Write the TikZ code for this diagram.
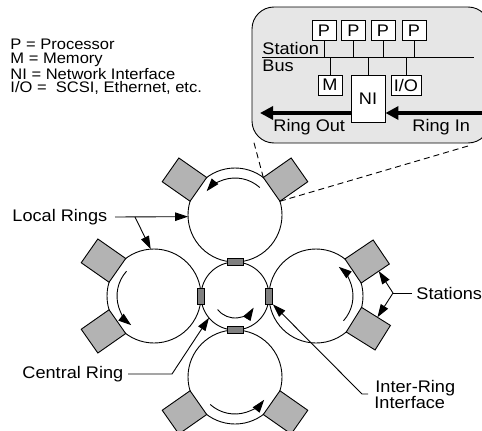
\documentclass[tikz,border=0pt]{standalone}
\usepackage{fontspec}
\setmainfont{Liberation Sans}[FakeStretch=1.08]
\usetikzlibrary{arrows.meta,calc}
\definecolor{stgray}{RGB}{179,179,179}
\definecolor{ifgray}{RGB}{128,128,128}
\definecolor{boxgray}{RGB}{230,230,230}
\newcommand{\legfont}{\fontsize{15.3}{13.8}\selectfont}
\newcommand{\calfont}{\fontsize{16.8}{16.8}\selectfont}
\newcommand{\labfont}{\fontsize{16.8}{16.8}\selectfont}
\begin{document}
\begin{tikzpicture}[x=1pt,y=1pt,line width=0.9pt,
  ring/.style={circle,draw,line width=0.9pt,inner sep=0pt,outer sep=0pt},
  station/.style={draw,fill=stgray,line width=0.9pt,minimum width=34pt,minimum height=29pt,inner sep=0pt,outer sep=0pt,anchor=west},
  ifh/.style={draw,fill=ifgray,line width=0.9pt,inner sep=0pt,minimum width=16pt,minimum height=7pt},
  ifv/.style={draw,fill=ifgray,line width=0.9pt,inner sep=0pt,minimum width=7pt,minimum height=16pt},
  cbox/.style={draw,fill=white,line width=0.9pt,inner sep=0pt,font=\calfont},
  txt/.style={anchor=base west,inner sep=0pt},
  arr/.style={-{Triangle[length=13pt,width=8.5pt]},line width=0.9pt},
  bigarr/.style={-{Triangle[length=13pt,width=13pt]},line width=4pt}
]
\useasboundingbox (0,0) rectangle (482,-431);

% ---------- callout ----------
\coordinate (dashA) at (253,-139);
\coordinate (dashB) at (468,-146);
\draw[fill=boxgray,rounded corners=22pt] (252,-7) rectangle (490,-143);

\coordinate (busL) at (262,-57);
\coordinate (busR) at (474,-57);
\draw (busL) -- (busR);
\node[cbox,minimum width=24pt,minimum height=20pt] (P1) at (324,-30.7) {P};
\node[cbox,minimum width=24pt,minimum height=20pt] (P2) at (353.5,-30.7) {P};
\node[cbox,minimum width=24pt,minimum height=20pt] (P3) at (383,-30.7) {P};
\node[cbox,minimum width=24pt,minimum height=20pt] (P4) at (414,-30.7) {P};
\foreach \p in {P1,P2,P3,P4} \draw (\p.south) -- (\p.south |- busL);
\node[cbox,minimum width=24pt,minimum height=20pt] (M) at (330,-85) {M};
\node[cbox,minimum width=34pt,minimum height=47pt] (NI) at (368,-98.5) {NI};
\node[cbox,minimum width=30pt,minimum height=20pt] (IO) at (406,-85) {I/O};
\foreach \p in {M,NI,IO} \draw (\p.north) -- (\p.north |- busL);
\node[txt,font=\calfont] (stn) at (262,-54) {Station};
\node[txt,font=\calfont] (bus) at (262,-71.5) {Bus};
\coordinate (rout) at (260,-113);
\coordinate (rin) at (486,-113);
\draw[bigarr] (rout -| NI.west) -- (rout);
\draw[bigarr] (rin) -- (rin -| NI.east);
\node[txt,font=\calfont] (ro) at (273,-131.5) {Ring Out};
\node[txt,font=\calfont] (ri) at (412,-131.5) {Ring In};

% ---------- legend ----------
\node[anchor=north west,inner sep=0pt,align=left,font=\legfont] (leg) at (10,-39)
  {P = Processor\\M = Memory\\NI = Network Interface\\I/O = \ SCSI, Ethernet, etc.};

% ---------- rings ----------
\node[ring,minimum size=68pt] (CR) at (235,-296) {};
\node[ring,minimum size=94pt] (TR) at (235,-215) {};
\node[ring,minimum size=94pt] (BR) at (235,-377) {};
\node[ring,minimum size=94pt] (LR) at (154,-296) {};
\node[ring,minimum size=94pt] (RR) at (316,-296) {};

% inner arrows
\draw[arr] ($(TR)+(48:37)$) arc[start angle=48,end angle=140,radius=37];
\draw[arr] ($(LR)+(138:37)$) arc[start angle=138,end angle=232,radius=37];
\draw[arr] ($(BR)+(228:37)$) arc[start angle=228,end angle=322,radius=37];
\draw[arr] ($(RR)+(-42:37)$) arc[start angle=-42,end angle=52,radius=37];
\draw[arr] ($(CR)+(218:22)$) arc[start angle=218,end angle=328,radius=22];

% stations
\node[station,rotate=145] (TS1) at ($(TR)+(145:44.7)$) {};
\node[station,rotate=35]  (TS2) at ($(TR)+(35:44.7)$) {};
\node[station,rotate=145] (LS1) at ($(LR)+(145:44.7)$) {};
\node[station,rotate=215] (LS2) at ($(LR)+(215:44.7)$) {};
\node[station,rotate=34]  (RS1) at ($(RR)+(34:44.7)$) {};
\node[station,rotate=-32] (RS2) at ($(RR)+(-32:44.7)$) {};
\node[station,rotate=215] (BS1) at ($(BR)+(215:44.7)$) {};
\node[station,rotate=-35] (BS2) at ($(BR)+(-35:44.7)$) {};

% inter-ring interfaces
\node[ifh] (IFt) at (CR.north) {};
\node[ifh] (IFb) at (CR.south) {};
\node[ifv] (IFl) at (CR.west) {};
\node[ifv] (IFr) at (CR.east) {};

% dashed zoom lines
\draw[dash pattern=on 6pt off 4pt] (TS2.north west) -- (dashA);
\draw[dash pattern=on 6pt off 4pt] (TS2.south west) -- (dashB);

% ---------- labels ----------
\node[txt,font=\labfont] (lr) at (12,-221) {Local Rings};
\coordinate (lrA) at (115,-217);
\coordinate (lrB) at (135,-217);
\draw[arr] (lrA) -- (TR.182);
\draw[arr] (lrB) -- (LR.94);

\node[txt,font=\labfont] (stl) at (416,-299) {Stations};
\coordinate (sbR) at (412,-293);
\coordinate (sb) at (393,-293);
\draw (sbR) -- (sb);
\draw[arr] (sb) -- ($(RS1.south)!0.25!(RS1.south east)$);
\draw[arr] (sb) -- ($(RS2.north)!0.1!(RS2.north east)$);

\node[txt,font=\labfont] (crl) at (22,-378) {Central Ring};
\coordinate (c1) at (128,-374);
\coordinate (c2) at (172,-374);
\draw[arr] (c1) -- (c2) -- (CR.220);

\node[txt,font=\labfont] (ir1) at (375,-392.5) {Inter-Ring};
\node[txt,font=\labfont] (ir2) at (374,-408) {Interface};
\coordinate (i1) at (368,-394);
\coordinate (i2) at (362,-394);
\draw[arr] (i1) -- (i2) -- (IFr.south east);
\end{tikzpicture}
\end{document}
